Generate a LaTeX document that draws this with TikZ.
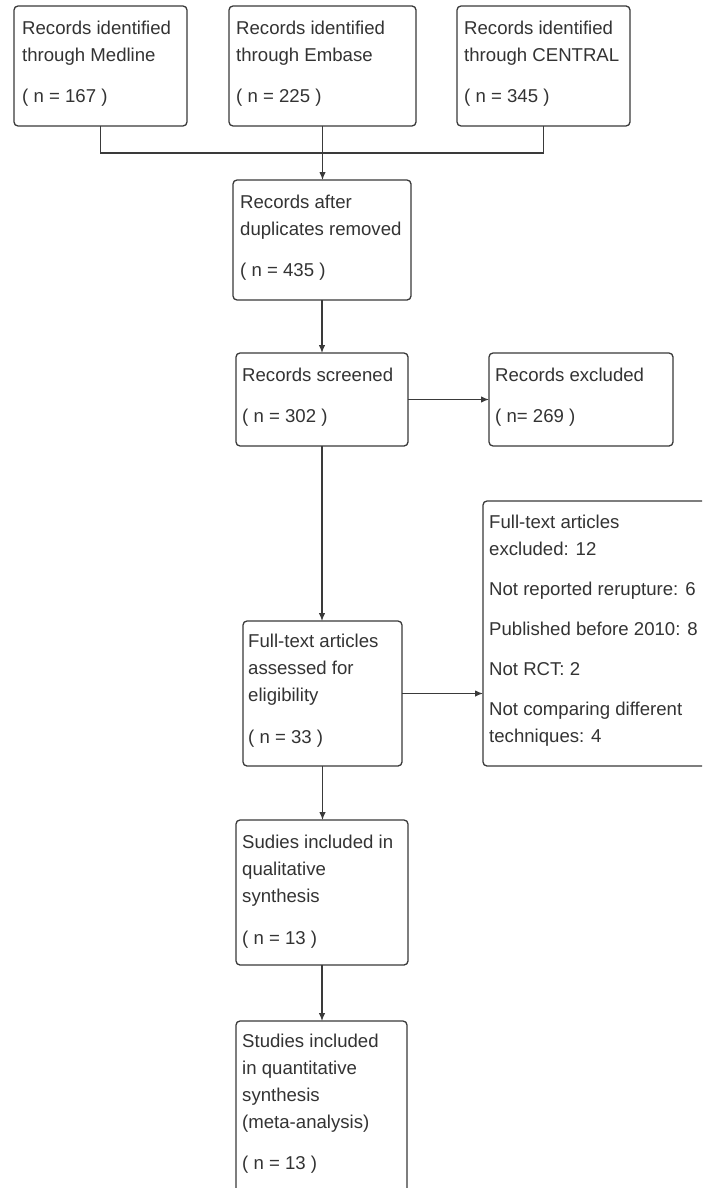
\documentclass[tikz,border=0pt]{standalone}
\usepackage{fontspec}
\setmainfont{Liberation Sans}
\usetikzlibrary{arrows.meta,calc}
\definecolor{edge}{HTML}{3A3A3A}
\definecolor{ink}{HTML}{333333}
\begin{document}
\begin{tikzpicture}[x=1pt,y=-1pt,
  boxst/.style={draw=edge,line width=1.3pt,rounded corners=4pt,inner sep=0pt,outer sep=0pt,fill=white},
  txt/.style={anchor=north west,inner sep=0pt,align=left,text=ink,font=\fontsize{18.6}{27}\selectfont},
  conn/.style={draw=edge,line width=1.2pt},
  arr/.style={conn,-{Latex[length=8pt,width=6.5pt]}}]
\useasboundingbox (0,0) rectangle (702,1188);
\clip (0,0) rectangle (702,1188);
\fill[white] (0,0) rectangle (702,1188);
% boxes
\node[boxst,minimum width=173pt,minimum height=120pt] (A) at (100.5,66) {};
\node[boxst,minimum width=187pt,minimum height=120pt] (B) at (322.5,66) {};
\node[boxst,minimum width=173pt,minimum height=120pt] (C) at (543.5,66) {};
\node[boxst,minimum width=178pt,minimum height=120pt] (D) at (322,240) {};
\node[boxst,minimum width=172pt,minimum height=93pt] (E) at (322,399.5) {};
\node[boxst,minimum width=184pt,minimum height=93pt] (F) at (581,399.5) {};
\node[boxst,minimum width=159pt,minimum height=145pt] (G) at (322.5,693.5) {};
\node[boxst,minimum width=257pt,minimum height=265pt] (H) at (611.5,633.5) {};
\node[boxst,minimum width=172pt,minimum height=145pt] (I) at (322,892.5) {};
\node[boxst,minimum width=171pt,minimum height=190pt] (J) at (321.5,1116) {};
% texts
\node[txt] (At) at ([xshift=8pt,yshift=-15pt]A.north west) {Records identified\\through Medline\\[14pt]( n = 167 )};
\node[txt] (Bt) at ([xshift=7pt,yshift=-15pt]B.north west) {Records identified\\through Embase\\[14pt]( n = 225 )};
\node[txt] (Ct) at ([xshift=7pt,yshift=-15pt]C.north west) {Records identified\\through CENTRAL\\[14pt]( n = 345 )};
\node[txt] (Dt) at ([xshift=7pt,yshift=-15pt]D.north west) {Records after\\duplicates removed\\[14pt]( n = 435 )};
\node[txt] (Et) at ([xshift=6pt,yshift=-15pt]E.north west) {Records screened\\[14pt]( n = 302 )};
\node[txt] (Ft) at ([xshift=6pt,yshift=-15pt]F.north west) {Records excluded\\[14pt]( n= 269 )};
\node[txt] (Gt) at ([xshift=5pt,yshift=-13pt]G.north west) {Full-text articles\\assessed for\\eligibility\\[15pt]( n = 33 )};
\node[txt] (Ht) at ([xshift=6pt,yshift=-14pt]H.north west) {Full-text articles\\excluded: 12\\[13pt]Not reported rerupture: 6\\[13pt]Published before 2010: 8\\[13pt]Not RCT: 2\\[13pt]Not comparing different\\techniques: 4};
\node[txt] (It) at ([xshift=6pt,yshift=-15pt]I.north west) {Sudies included in\\qualitative\\synthesis\\[15pt]( n = 13 )};
\node[txt] (Jt) at ([xshift=6pt,yshift=-13pt]J.north west) {Studies included\\in quantitative\\synthesis\\(meta-analysis)\\[14pt]( n = 13 )};
% connectors
\coordinate (jn) at ($(B.south)+(0,27)$);
\draw[conn] (A.south) |- (jn) -| (C.south);
\draw[arr] (B.south) -- (B.south |- D.north);
\draw[arr] (D.south) -- (D.south |- E.north);
\draw[arr] (E.east) -- (E.east -| F.west);
\draw[arr] (E.south) -- (E.south |- G.north);
\draw[arr] (G.east) -- (G.east -| H.west);
\draw[arr] (G.south) -- (G.south |- I.north);
\draw[arr] (I.south) -- (I.south |- J.north);
\end{tikzpicture}
\end{document}
